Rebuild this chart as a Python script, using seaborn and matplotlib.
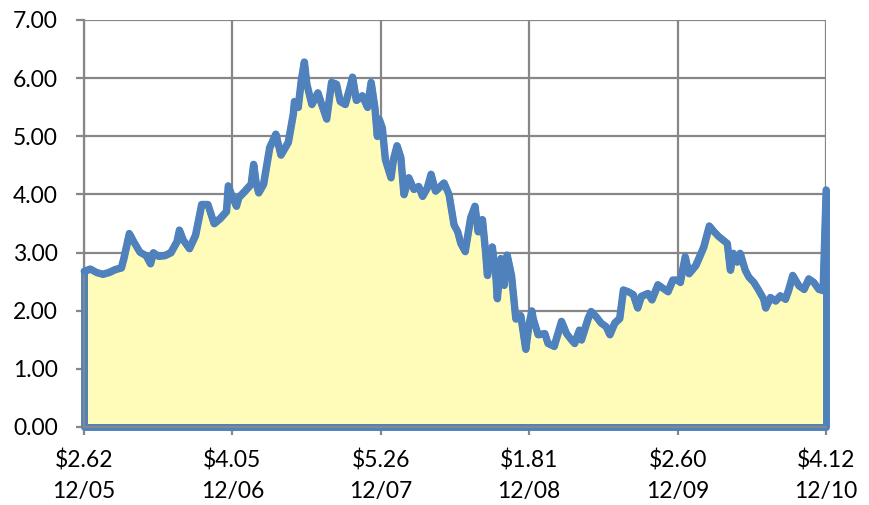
import matplotlib
matplotlib.use("Agg")
import matplotlib.pyplot as plt
import numpy as np
import seaborn as sns

# Monthly offsets from 12/05 and the price
months = [
    0.0, 0.5, 1.0, 1.5, 2.0, 2.5, 3.0, 3.2, 3.65, 4.0, 4.5, 5.0, 5.35, 5.6, 6.0,
    6.5, 7.0, 7.5, 7.7, 8.0, 8.5, 9.0, 9.5, 10.0, 10.5, 11.0, 11.5, 11.65, 12.0,
    12.3, 12.5, 13.0, 13.5, 13.7, 13.9, 14.1, 14.5, 15.0, 15.5, 15.9, 16.5, 16.9,
    17.0, 17.3, 17.55, 17.8, 18.0, 18.4, 18.9, 19.2, 19.6, 20.0, 20.4, 20.7, 21.1,
    21.5, 21.7, 22.0, 22.5, 22.9, 23.2, 23.5, 23.7, 23.85, 24.1, 24.35, 24.8,
    25.0, 25.3, 25.6, 25.85, 26.25, 26.65, 27.05, 27.35, 27.75, 28.05, 28.4,
    29.1, 29.5, 29.9, 30.2, 30.45, 30.8, 31.25, 31.6, 31.85, 32.2, 32.45, 32.6,
    33.0, 33.3, 33.4, 33.7, 33.95, 34.2, 34.55, 34.9, 35.3, 35.7, 35.95, 36.2,
    36.3, 36.7, 37.25, 37.5, 38.0, 38.6, 39.0, 39.4, 39.65, 40.05, 40.2, 40.75,
    41.0, 41.4, 41.8, 42.2, 42.5, 42.9, 43.3, 43.6, 44.0, 44.4, 44.75, 45.05,
    45.6, 45.9, 46.4, 46.8, 47.2, 47.6, 48.0, 48.2, 48.6, 48.9, 49.45, 49.7,
    50.1, 50.55, 50.9, 51.3, 52.0, 52.25, 52.5, 52.8, 53.05, 53.45, 53.75, 54.15,
    54.5, 54.95, 55.1, 55.5, 55.9, 56.3, 56.7, 56.95, 57.3, 57.8, 58.2, 58.6,
    59.0, 59.4, 59.75, 60.0,
]
prices = [
    2.68, 2.72, 2.66, 2.63, 2.66, 2.71, 2.74, 2.90, 3.33, 3.19, 3.01, 2.95, 2.81,
    3.00, 2.94, 2.95, 3.00, 3.19, 3.39, 3.22, 3.07, 3.30, 3.83, 3.83, 3.50, 3.59,
    3.71, 4.15, 3.95, 3.80, 3.95, 4.06, 4.18, 4.52, 4.20, 4.03, 4.18, 4.81, 5.04,
    4.68, 4.90, 5.38, 5.60, 5.50, 5.96, 6.28, 5.90, 5.55, 5.75, 5.55, 5.30, 5.93,
    5.90, 5.60, 5.55, 5.85, 6.02, 5.62, 5.70, 5.50, 5.93, 5.50, 5.00, 5.30, 5.15,
    4.60, 4.29, 4.60, 4.84, 4.64, 4.00, 4.29, 4.09, 4.14, 3.97, 4.12, 4.35, 4.06,
    4.20, 4.00, 3.48, 3.36, 3.16, 3.02, 3.60, 3.80, 3.36, 3.57, 3.02, 2.61, 3.10,
    2.55, 2.21, 2.90, 2.44, 2.96, 2.61, 1.86, 1.92, 1.34, 1.75, 2.00, 1.87, 1.59,
    1.61, 1.44, 1.39, 1.82, 1.61, 1.50, 1.44, 1.67, 1.50, 1.87, 1.99, 1.90, 1.79,
    1.73, 1.59, 1.79, 1.87, 2.36, 2.33, 2.28, 2.05, 2.25, 2.30, 2.19, 2.45, 2.39,
    2.33, 2.53, 2.53, 2.49, 2.93, 2.64, 2.78, 2.90, 3.10, 3.46, 3.37, 3.28, 3.16,
    2.70, 2.99, 2.84, 2.99, 2.70, 2.58, 2.49, 2.37, 2.20, 2.05, 2.23, 2.17, 2.26,
    2.20, 2.35, 2.61, 2.43, 2.37, 2.55, 2.49, 2.37, 2.35, 4.08,
]

# x axis labels: price at each December
tick_months = [0, 12, 24, 36, 48, 60]
tick_prices = ["$2.62", "$4.05", "$5.26", "$1.81", "$2.60", "$4.12"]
tick_dates = ["12/05", "12/06", "12/07", "12/08", "12/09", "12/10"]

sns.set_style("white")
plt.rcParams["font.family"] = ["Lato", "DejaVu Sans"]

blue = "#4F81BD"
fill = "#FFFBB8"
grid = "#878787"

fig = plt.figure(figsize=(8.69, 5.05), dpi=100)
ax = fig.add_axes([0.0967, 0.1545, 0.8538, 0.806])

# area with a blue border all round
ax.fill_between(months, prices, facecolor=fill, edgecolor=blue, linewidth=5,
                joinstyle="round", clip_on=False, zorder=2)
sns.lineplot(x=months, y=prices, ax=ax, color=blue, linewidth=5,
             solid_joinstyle="round", solid_capstyle="round", clip_on=False, zorder=3)

ax.set_xlim(0, 60)
ax.set_ylim(0, 7)
ax.set_yticks(np.arange(0, 8, 1))
ax.set_yticklabels([f"{v:.2f}" for v in np.arange(0, 8, 1)])
ax.set_xticks(tick_months)
ax.set_xticklabels([f"{p}\n{d}" for p, d in zip(tick_prices, tick_dates)],
                   linespacing=1.6)

ax.grid(True, color=grid, linewidth=1.6, zorder=0)
ax.set_axisbelow(True)
for side in ["top", "right"]:
    ax.spines[side].set_visible(False)
for side in ["left", "bottom"]:
    ax.spines[side].set_color(grid)
    ax.spines[side].set_linewidth(1.6)

ax.tick_params(axis="both", which="major", direction="out", length=6, width=1.6,
               color=grid, labelsize=16.5, labelcolor="black")
ax.tick_params(axis="y", pad=13, left=True)
ax.tick_params(axis="x", pad=10, bottom=True)
ax.set_xlabel("")
ax.set_ylabel("")

fig.savefig("out.png", dpi=100)
